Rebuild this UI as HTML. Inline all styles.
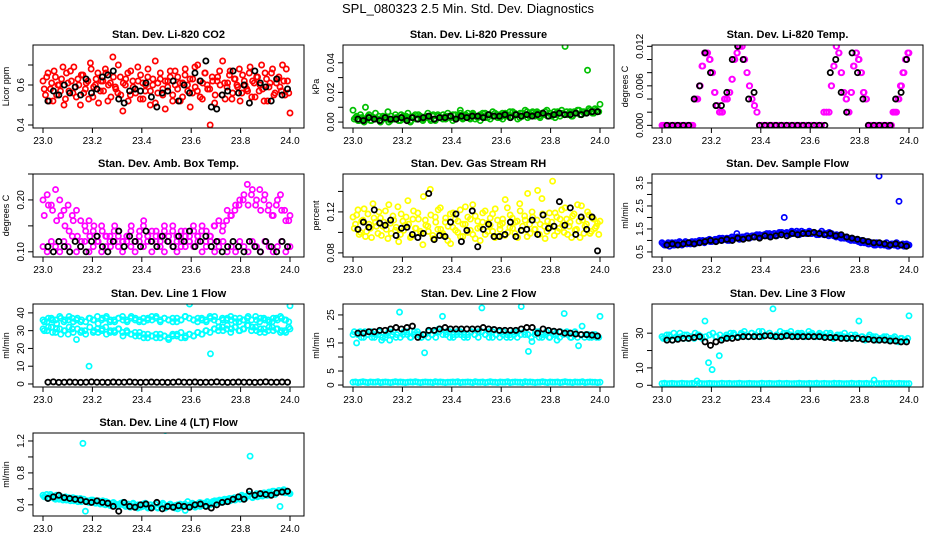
<!DOCTYPE html>
<html><head><meta charset="utf-8"><style>
body{margin:0;background:#fff;}
svg{display:block;font-family:"Liberation Sans",sans-serif;}
</style></head><body>
<svg id="c" width="936" height="540" viewBox="0 0 936 540">
<text x="468" y="13" text-anchor="middle" font-size="13">SPL_080323  2.5 Min. Std. Dev. Diagnostics</text>
</svg>
<script>
const xTicks=[23.0,23.2,23.4,23.6,23.8,24.0];
const co2Red=[0.62,0.55,0.66,0.58,0.52,0.64,0.60,0.57,0.69,0.53,0.61,0.67,0.56,0.59,0.63,0.50,0.65,0.58,0.62,0.71,0.54,0.60,0.66,0.57,0.62,0.68,0.52,0.61,0.74,0.59,0.56,0.64,0.47,0.60,0.66,0.55,0.62,0.58,0.69,0.53,0.61,0.57,0.64,0.50,0.60,0.72,0.56,0.63,0.58,0.48,0.62,0.67,0.55,0.60,0.64,0.52,0.61,0.68,0.57,0.49,0.63,0.59,0.70,0.54,0.61,0.66,0.58,0.40,0.62,0.55,0.64,0.60,0.72,0.53,0.61,0.67,0.56,0.63,0.59,0.52,0.65,0.60,0.57,0.69,0.62,0.54,0.64,0.60,0.58,0.66,0.52,0.61,0.68,0.56,0.63,0.59,0.70,0.55,0.62,0.46];
const co2Red2=[0.58,0.64,0.52,0.61,0.67,0.55,0.60,0.63,0.50,0.66,0.57,0.62,0.69,0.54,0.60,0.65,0.56,0.61,0.53,0.68,0.59,0.63,0.51,0.62,0.57,0.66,0.60,0.54,0.64,0.58,0.70,0.55,0.61,0.63,0.52,0.67,0.59,0.56,0.62,0.65,0.53,0.60,0.68,0.57,0.63,0.51,0.61,0.66,0.55,0.62,0.59,0.64,0.52,0.67,0.58,0.61,0.54,0.65,0.60,0.63,0.56,0.69,0.57,0.62,0.53,0.66,0.60,0.58,0.64,0.51,0.62,0.67,0.55,0.61,0.59,0.65,0.53,0.63,0.60,0.68,0.56,0.62,0.58,0.66,0.54,0.61,0.64,0.57,0.70,0.52,0.63,0.59,0.66,0.55,0.61,0.64,0.57,0.62,0.68,0.56];
const co2Black=[0.52,0.57,0.55,0.60,0.56,0.59,0.55,0.63,0.56,0.58,0.64,0.65,0.67,0.53,0.51,0.57,0.58,0.57,0.61,0.54,0.49,0.56,0.57,0.62,0.52,0.60,0.56,0.66,0.62,0.72,0.49,0.48,0.55,0.57,0.67,0.56,0.60,0.51,0.67,0.61,0.59,0.52,0.63,0.55,0.58];
const presGreen=[0.008,0.003,0.001,0.005,0.002,0.010,0.004,0.001,0.003,0.006,0.002,0.000,0.004,0.003,0.007,0.001,0.002,0.005,0.003,0.001,0.004,0.002,0.006,0.000,0.003,0.005,0.002,0.004,0.001,0.003,0.006,0.002,0.004,0.001,0.005,0.003,0.002,0.004,0.006,0.003,0.001,0.005,0.003,0.008,0.002,0.004,0.006,0.003,0.005,0.002,0.004,0.001,0.006,0.003,0.005,0.002,0.007,0.004,0.003,0.005,0.002,0.006,0.004,0.003,0.007,0.005,0.002,0.006,0.004,0.008,0.003,0.005,0.007,0.004,0.006,0.003,0.005,0.007,0.004,0.006,0.005,0.003,0.007,0.004,0.006,0.051,0.005,0.007,0.004,0.006,0.008,0.005,0.007,0.006,0.035,0.008,0.006,0.009,0.007,0.012];
const presGreen2=[0.002,0.004,0.001,0.003,0.000,0.002,0.005,0.001,0.003,0.002,0.004,0.001,0.003,0.002,0.000,0.004,0.002,0.003,0.001,0.005,0.002,0.004,0.003,0.001,0.004,0.002,0.005,0.003,0.002,0.004,0.003,0.001,0.005,0.002,0.004,0.003,0.005,0.002,0.004,0.003,0.005,0.002,0.004,0.006,0.003,0.005,0.004,0.002,0.006,0.004,0.003,0.005,0.004,0.006,0.003,0.005,0.004,0.006,0.005,0.003,0.006,0.004,0.005,0.007,0.004,0.006,0.005,0.003,0.006,0.005,0.007,0.004,0.006,0.005,0.007,0.004,0.006,0.005,0.008,0.006,0.004,0.007,0.005,0.006,0.008,0.005,0.007,0.006,0.004,0.007,0.006,0.008,0.005,0.007,0.006,0.009,0.007,0.006,0.008,0.007];
const presBlack=[0.002,0.001,0.003,0.002,0.001,0.003,0.002,0.002,0.003,0.001,0.003,0.002,0.003,0.004,0.002,0.003,0.003,0.004,0.002,0.004,0.003,0.004,0.004,0.003,0.005,0.004,0.004,0.005,0.003,0.005,0.004,0.005,0.004,0.005,0.006,0.004,0.005,0.006,0.005,0.005,0.006,0.005,0.006,0.007,0.007];
const tempMagenta=[0,0,0,0,0,0,0,0,0,0,0,0,0,0.004,0.004,0.006,0.009,0.011,0.011,0.010,0.008,0.005,0.003,0.002,0.002,0.004,0.004,0.005,0.007,0.010,0.011,0.012,0.012,0.010,0.008,0.006,0.004,0.003,0.002,0,0,0,0,0,0,0,0,0,0,0,0,0,0,0,0,0,0,0,0,0,0,0,0,0,0,0.002,0.002,0.002,0.006,0.009,0.012,0.011,0.008,0.005,0.004,0.002,0.005,0.009,0.011,0.010,0.008,0.005,0.004,0,0,0,0,0,0,0,0,0,0,0.002,0.002,0.004,0.006,0.008,0.010,0.011];
const tempBlack=[0,0,0,0,0,0.004,0.006,0.011,0.008,0.003,0.003,0.005,0.010,0.012,0.010,0.004,0.005,0,0,0,0,0,0,0,0,0,0,0,0,0,0.008,0.010,0.005,0.002,0.011,0.008,0.004,0,0,0,0,0,0.004,0.005,0.010];
const ambUpper=[0.20,0.21,0.19,0.22,0.20,0.18,0.19,0.17,0.18,0.16,0.15,0.16,0.14,0.13,0.15,0.13,0.12,0.14,0.13,0.12,0.13,0.14,0.12,0.13,0.15,0.12,0.14,0.13,0.12,0.14,0.13,0.15,0.12,0.14,0.13,0.12,0.14,0.13,0.15,0.14,0.13,0.15,0.16,0.15,0.18,0.17,0.19,0.20,0.21,0.19,0.22,0.20,0.18,0.21,0.19,0.17,0.20,0.18,0.16,0.17];
const ambMid=[0.17,0.19,0.18,0.16,0.17,0.15,0.14,0.16,0.13,0.12,0.14,0.13,0.15,0.12,0.14,0.13,0.11,0.15,0.14,0.12,0.13,0.15,0.12,0.14,0.16,0.13,0.12,0.14,0.13,0.15,0.12,0.14,0.13,0.11,0.14,0.12,0.15,0.13,0.14,0.12,0.13,0.15,0.12,0.14,0.16,0.17,0.18,0.19,0.20,0.23,0.21,0.19,0.22,0.20,0.18,0.17,0.19,0.21,0.18,0.16];
const ambLower=[0.11,0.10,0.12,0.11,0.10,0.12,0.11,0.13,0.10,0.11,0.12,0.10,0.11,0.12,0.10,0.11,0.13,0.12,0.11,0.10,0.12,0.11,0.10,0.12,0.11,0.13,0.10,0.12,0.11,0.10,0.12,0.11,0.10,0.12,0.11,0.13,0.11,0.12,0.10,0.11,0.12,0.10,0.11,0.12,0.10,0.11,0.10,0.12,0.11,0.10,0.12,0.11,0.10,0.12,0.11,0.10,0.11,0.12,0.10,0.11];
const ambBlack=[0.11,0.10,0.12,0.11,0.10,0.12,0.11,0.10,0.12,0.13,0.11,0.10,0.12,0.14,0.11,0.13,0.12,0.11,0.14,0.12,0.11,0.13,0.12,0.11,0.13,0.12,0.14,0.11,0.12,0.13,0.11,0.12,0.10,0.11,0.12,0.11,0.10,0.12,0.11,0.10,0.12,0.11,0.10,0.12,0.11];
const rhYellow=[0.115,0.108,0.122,0.100,0.112,0.096,0.118,0.104,0.128,0.110,0.099,0.114,0.106,0.121,0.094,0.109,0.116,0.102,0.125,0.098,0.111,0.107,0.131,0.095,0.113,0.104,0.119,0.101,0.088,0.112,0.106,0.142,0.097,0.115,0.103,0.124,0.099,0.110,0.092,0.118,0.105,0.113,0.100,0.122,0.096,0.108,0.115,0.102,0.127,0.094,0.111,0.105,0.119,0.098,0.109,0.114,0.101,0.123,0.096,0.107,0.113,0.132,0.100,0.117,0.104,0.110,0.095,0.121,0.106,0.112,0.138,0.099,0.115,0.103,0.141,0.108,0.118,0.094,0.111,0.105,0.150,0.119,0.101,0.113,0.107,0.124,0.098,0.110,0.116,0.102,0.127,0.095,0.112,0.106,0.120,0.099,0.114,0.104,0.109,0.111];
const rhYellow2=[0.104,0.117,0.098,0.111,0.123,0.101,0.108,0.095,0.114,0.106,0.120,0.097,0.110,0.103,0.127,0.099,0.112,0.105,0.091,0.118,0.102,0.115,0.108,0.096,0.121,0.104,0.113,0.099,0.135,0.107,0.101,0.117,0.094,0.110,0.122,0.103,0.097,0.114,0.106,0.089,0.119,0.102,0.111,0.096,0.108,0.125,0.100,0.113,0.098,0.116,0.104,0.092,0.110,0.121,0.101,0.107,0.118,0.095,0.112,0.103,0.109,0.097,0.124,0.105,0.114,0.099,0.111,0.128,0.102,0.116,0.096,0.108,0.120,0.103,0.112,0.098,0.133,0.106,0.101,0.119,0.110,0.097,0.115,0.104,0.122,0.100,0.113,0.106,0.095,0.118,0.103,0.111,0.126,0.099,0.108,0.117,0.101,0.113,0.106,0.098];
const rhBlack=[0.103,0.110,0.105,0.122,0.109,0.107,0.112,0.097,0.104,0.105,0.098,0.095,0.099,0.138,0.093,0.097,0.096,0.110,0.118,0.091,0.102,0.121,0.086,0.103,0.108,0.096,0.096,0.098,0.110,0.096,0.102,0.103,0.112,0.098,0.117,0.104,0.106,0.130,0.107,0.124,0.098,0.115,0.103,0.115,0.082];
const flowBlue=[0.9,0.8,0.85,0.75,0.9,0.8,0.85,0.95,0.8,0.9,0.85,0.9,0.95,0.85,0.9,1.0,0.95,0.9,1.0,1.05,0.95,1.0,1.05,1.1,1.0,1.05,1.1,1.0,1.15,1.1,1.3,1.05,1.1,1.15,1.2,1.1,1.15,1.2,1.25,1.15,1.2,1.25,1.3,1.2,1.25,1.3,1.2,1.35,1.25,2.0,1.3,1.25,1.35,1.3,1.4,1.25,1.3,1.35,1.3,1.4,1.3,1.35,1.25,1.3,1.4,1.3,1.25,1.35,1.3,1.2,1.25,1.15,1.2,1.1,1.15,1.05,1.1,1.0,1.05,0.95,1.0,0.9,0.95,0.85,0.9,0.8,0.9,3.8,0.85,0.8,0.9,0.75,0.85,0.8,0.9,2.7,0.8,0.75,0.85,0.8];
const flowBlue2=[0.85,0.8,0.9,0.85,0.8,0.9,0.85,0.9,0.85,0.95,0.9,0.85,0.9,0.95,0.9,0.95,1.0,0.95,1.0,0.95,1.0,1.05,1.0,1.05,1.1,1.05,1.0,1.1,1.05,1.1,1.15,1.1,1.15,1.1,1.2,1.15,1.2,1.15,1.2,1.25,1.2,1.25,1.2,1.3,1.25,1.3,1.25,1.3,1.35,1.3,1.35,1.3,1.4,1.35,1.3,1.35,1.4,1.35,1.3,1.35,1.3,1.35,1.3,1.25,1.3,1.25,1.3,1.2,1.25,1.2,1.15,1.2,1.1,1.15,1.1,1.05,1.0,1.05,1.0,0.95,0.9,0.95,0.9,0.85,0.9,0.85,0.8,0.85,0.8,0.85,0.8,0.75,0.8,0.85,0.8,0.75,0.8,0.85,0.75,0.8];
const flowBlack=[0.8,0.85,0.8,0.85,0.9,0.85,0.9,0.95,1.0,0.95,1.0,1.05,1.0,1.1,1.05,1.1,1.15,1.1,1.2,1.15,1.2,1.25,1.2,1.3,1.25,1.3,1.3,1.35,1.3,1.25,1.3,1.2,1.25,1.15,1.1,1.05,1.0,0.95,0.9,0.9,0.85,0.8,0.85,0.8,0.75];
const line1Upper=[36,35,37,36,38,35,36,37,36,35,47,37,36,38,36,37,35,36,37,38,36,37,36,35,37,36,38,37,36,37,36,35,37,36,38,45,36,37,36,35,37,38,48,36,37,36,35,37,36,38,47,36,37,36,35,37,36,37,36,44];
const line1Upper2=[35,37,36,34,37,36,38,35,37,36,35,37,36,34,37,38,36,35,37,36,35,38,37,36,35,37,36,38,35,37,36,37,35,36,38,37,36,35,37,36,38,36,35,37,36,38,37,35,36,37,36,38,35,37,36,35,37,38,36,35];
const line1Lower=[31,30,32,29,31,30,28,31,25,29,30,10,29,31,30,32,29,30,31,29,30,28,29,27,28,26,27,28,26,27,25,27,28,26,27,28,27,29,28,30,17,31,32,30,33,31,32,30,31,33,32,30,31,29,32,30,31,30,29,31];
const line1Lower2=[30,32,29,31,28,30,32,29,31,30,28,32,30,29,31,28,30,29,31,27,29,28,27,29,26,28,27,26,28,27,26,28,27,29,26,28,27,29,28,30,29,31,30,32,31,29,32,30,31,33,30,32,29,31,30,32,31,29,30,32];
const line1Black=[1,1.2,0.9,1,1.1,1,0.9,1,1.2,1,1,0.9,1.1,1,1,1.2,1,0.9,1,1.1,1,1,0.9,1,1.2,1,1,1.1,0.9,1,1,1.2,1,0.9,1,1.1,1,1,0.9,1,1.2,1,1,1.1,1];
const line2Band=[18,15,19,17,18,19,17,18,16,17,19,18,17,26,18,19,17,18,19,17,11.5,17,18,19,20,24.5,18,19,17,18,19,18,17,19,18,19,27.5,18,17,19,18,17,19,18,17,18,19,28,18,12,15.5,19,17,18,19,17,18,16,19,25.5,18,17,19,14,21,18,17,18,17,24.5];
const line2Band2=[19,18,17,19,18,17,18,19,17,18,16,19,18,17,19,18,17,19,18,17,18,19,18,17,19,18,19,17,18,19,18,17,18,19,18,17,19,18,19,17,18,19,18,17,18,19,17,18,19,18,17,18,19,17,18,17,19,18,17,18,19,17,18,17,18,17,18,17,18,17];
const line2Zero=[1,1.1,0.9,1,1.2,1,0.9,1.1,1,1,1.2,0.9,1,1.1,1,0.9,1,1.2,1,1.1,1,0.9,1,1.1,1,1.2,1,0.9,1,1.1,1,1,0.9,1.2,1,1.1,1,0.9,1,1,1.1,1,1.2,0.9,1,1,1.1,1,0.9,1.2,1,1,1.1,0.9,1,1.2,1,1,0.9,1.1,1,1,1.2,0.9,1,1.1,1,1,0.9,1.2,1,1.1,1,0.9,1,1,1.2,1,0.9,1.1,1,1,1.1,0.9,1,1.2,1,1,0.9,1.1,1,1,1.2,0.9,1,1.1,1,1,0.9,1];
const line2Black=[18.5,18.5,19,19,19.5,19.5,20,20.5,20,20.5,21,17,18,19.5,19.5,20,20.5,20,20,20,20,20,20,20.5,20,19.8,19.5,19.5,19.5,19.5,20,20.5,20.5,18.5,20,19.5,19.2,19,18.5,18.5,18.2,18,18,17.8,17.5];
const line3Band=[28,27,29,26,28,30,27,29,28,27,29,28,37,13,9,28,17,27,29,28,30,28,29,31,28,30,29,28,31,29,30,44,29,28,30,29,31,28,29,30,28,31,29,28,30,29,28,30,27,29,28,30,28,27,29,37,28,27,29,28,26,27,28,26,27,28,25,27,26,40];
const line3Band2=[27,29,28,30,27,28,29,27,28,30,29,27,28,29,30,28,29,27,28,30,29,28,30,29,28,30,29,31,28,29,30,28,29,31,28,30,29,28,30,29,28,29,30,28,29,28,30,29,27,28,29,28,27,29,28,27,28,26,28,27,28,26,27,28,26,27,26,27,26,27];
const line3Zero=[1,1.2,0.9,1,1.1,1,0.9,1,1.2,1,1,0.9,1.1,1,2.5,1.2,1,0.9,1,1.1,1,1,0.9,1,1.2,1,1,1.1,0.9,1,1,1.2,1,0.9,1,1.1,1,1,0.9,1,1.2,1,1,1.1,1,0.9,1,1.2,1,1,1.1,1,0.9,1,1,1.2,1,1,0.9,1.1,1,1,1.2,0.9,1,1.1,1,1,0.9,1.2,1,1.1,1,0.9,1,1,1.2,1,0.9,1.1,1,1,1.1,0.9,1,3,1,1,0.9,1.1,1,1,1.2,0.9,1,1.1,1,1,0.9,1];
const line3Black=[26,26,26.5,27,27,27.5,28,25,23,25,26,27,27,27.5,28,28,28,28,28.5,28.5,28,28,28.5,28,28,28,28,28,28,27.5,27.5,27.5,27,27,27,27,26.5,26.5,26,26,26,25.5,25.5,25,25];
const line4Cyan=[0.52,0.50,0.48,0.53,0.50,0.47,0.51,0.49,0.46,0.50,0.48,0.45,0.49,0.47,0.44,0.48,1.17,0.32,0.45,0.43,0.46,0.42,0.44,0.41,0.45,0.40,0.43,0.39,0.42,0.40,0.38,0.41,0.43,0.39,0.40,0.37,0.41,0.39,0.36,0.40,0.38,0.42,0.37,0.40,0.38,0.41,0.36,0.39,0.42,1.33,0.38,0.40,0.37,0.39,0.35,0.41,0.38,0.33,0.44,0.39,0.41,0.37,0.40,0.38,0.42,0.39,0.43,0.40,0.44,0.42,0.45,0.43,0.46,0.44,0.47,0.45,0.48,0.46,0.49,0.47,0.50,0.48,0.51,1.01,0.49,0.52,0.50,0.53,0.51,0.54,0.52,0.55,0.57,0.53,0.56,0.38,0.58,0.55,0.57,0.54];
const line4Cyan2=[0.50,0.53,0.49,0.51,0.48,0.52,0.47,0.50,0.48,0.46,0.49,0.47,0.45,0.48,0.46,0.44,0.47,0.45,0.43,0.46,0.44,0.42,0.45,0.43,0.41,0.44,0.42,0.40,0.43,0.41,0.39,0.42,0.40,0.38,0.41,0.39,0.42,0.38,0.40,0.37,0.41,0.39,0.36,0.40,0.38,0.41,0.37,0.39,0.40,0.36,0.39,0.41,0.38,0.36,0.40,0.37,0.39,0.41,0.38,0.40,0.42,0.39,0.41,0.43,0.40,0.42,0.44,0.41,0.43,0.45,0.44,0.46,0.45,0.47,0.46,0.48,0.47,0.49,0.48,0.50,0.52,0.49,0.51,0.53,0.50,0.52,0.54,0.51,0.53,0.55,0.52,0.56,0.54,0.57,0.55,0.58,0.56,0.59,0.57,0.55];
const line4Black=[0.48,0.50,0.52,0.49,0.48,0.47,0.46,0.44,0.43,0.45,0.43,0.42,0.38,0.32,0.43,0.38,0.37,0.40,0.41,0.36,0.43,0.35,0.38,0.37,0.39,0.38,0.37,0.40,0.41,0.38,0.36,0.40,0.43,0.44,0.47,0.50,0.47,0.57,0.52,0.54,0.53,0.52,0.55,0.56,0.57];

const NS="http://www.w3.org/2000/svg";
const svg=document.getElementById('c');
function mk(tag,attrs,parent){const e=document.createElementNS(NS,tag);for(const k in attrs)e.setAttribute(k,attrs[k]);(parent||svg).appendChild(e);return e;}
const colLeft=[33,343,652], rowTop=[45,174,304,433], W=271, H=83;
const panels=[
 {slug:'li820-co2',title:'Stan. Dev. Li-820 CO2',ylab:'Licor ppm',c:0,r:0,y0:0.385,y1:0.8,ticks:[0.4,0.5,0.6,0.7],labs:['0.4','','0.6',''],layers:[['#ff0000',co2Red,'full'],['#ff0000',co2Red2,'full2'],['#000',co2Black,'black']]},
 {slug:'li820-pressure',title:'Stan. Dev. Li-820 Pressure',ylab:'kPa',c:1,r:0,y0:-0.004,y1:0.052,ticks:[0,0.01,0.02,0.03,0.04],labs:['0.00','','0.02','','0.04'],layers:[['#00c000',presGreen,'full'],['#00c000',presGreen2,'full2'],['#000',presBlack,'black']]},
 {slug:'li820-temp',title:'Stan. Dev. Li-820 Temp.',ylab:'degrees C',c:2,r:0,y0:-0.0004,y1:0.0122,ticks:[0,0.002,0.004,0.006,0.008,0.01,0.012],labs:['0.000','','','0.006','','','0.012'],layers:[['#ff00ff',tempMagenta,'full'],['#ff00ff',tempMagenta,'full2'],['#000',tempBlack,'black']]},
 {slug:'amb-box-temp',title:'Stan. Dev. Amb. Box Temp.',ylab:'degrees C',c:0,r:1,y0:0.09,y1:0.25,ticks:[0.1,0.15,0.2,0.25],labs:['0.10','','0.20',''],layers:[['#ff00ff',ambUpper,'full'],['#ff00ff',ambMid,'full2'],['#ff00ff',ambLower,'full'],['#000',ambBlack,'black']]},
 {slug:'gas-stream-rh',title:'Stan. Dev. Gas Stream RH',ylab:'percent',c:1,r:1,y0:0.076,y1:0.157,ticks:[0.08,0.1,0.12,0.14],labs:['0.08','','0.12',''],layers:[['#ffff00',rhYellow,'full'],['#ffff00',rhYellow2,'full2'],['#000',rhBlack,'black']]},
 {slug:'sample-flow',title:'Stan. Dev. Sample Flow',ylab:'ml/min',c:2,r:1,y0:0.28,y1:3.89,ticks:[0.5,1,1.5,2,2.5,3,3.5],labs:['0.5','','1.5','','2.5','','3.5'],layers:[['#0000ff',flowBlue,'full'],['#0000ff',flowBlue2,'full2'],['#000',flowBlack,'black']]},
 {slug:'line1-flow',title:'Stan. Dev. Line 1 Flow',ylab:'ml/min',c:0,r:2,y0:-1.7,y1:45,ticks:[0,10,20,30,40],labs:['0','10','20','30','40'],layers:[['#00ffff',line1Upper,'full'],['#00ffff',line1Upper2,'full2'],['#00ffff',line1Lower,'full'],['#00ffff',line1Lower2,'full2'],['#000',line1Black,'black']]},
 {slug:'line2-flow',title:'Stan. Dev. Line 2 Flow',ylab:'ml/min',c:1,r:2,y0:-0.7,y1:28.9,ticks:[0,5,10,15,20,25],labs:['0','5','','15','','25'],layers:[['#00ffff',line2Zero,'full'],['#00ffff',line2Band,'full'],['#00ffff',line2Band2,'full2'],['#000',line2Black,'black']]},
 {slug:'line3-flow',title:'Stan. Dev. Line 3 Flow',ylab:'ml/min',c:2,r:2,y0:-1,y1:46.8,ticks:[0,10,20,30],labs:['0','10','','30'],layers:[['#00ffff',line3Zero,'full'],['#00ffff',line3Band,'full'],['#00ffff',line3Band2,'full2'],['#000',line3Black,'black']]},
 {slug:'line4-flow',title:'Stan. Dev. Line 4 (LT) Flow',ylab:'ml/min',c:0,r:3,y0:0.26,y1:1.3,ticks:[0.4,0.6,0.8,1.0,1.2],labs:['0.4','','0.8','','1.2'],layers:[['#00ffff',line4Cyan,'full'],['#00ffff',line4Cyan2,'full2'],['#000',line4Black,'black']]}
];
panels.forEach(p=>{
 const L=colLeft[p.c], T=rowTop[p.r];
 const g=mk('g',{});
 
 
 const xs=x=>L+10+(x-23)*247;
 const ys=y=>T+H-(y-p.y0)/(p.y1-p.y0)*H;
 const t=mk('text',{x:L+W/2,y:T-7,'text-anchor':'middle','font-size':'11','font-weight':'bold'},g);
 t.textContent=p.title;
 
 
 const clip=mk('clipPath',{id:'cl'+p.slug},g);mk('rect',{x:L,y:T,width:W,height:H},clip);
 const pts=mk('g',{'clip-path':'url(#cl'+p.slug+')'},g);
 p.layers.forEach(([col,vals,kind])=>{
  const n=vals.length;
  const a=kind==='black'?23.02:(kind==='full2'?23.005:23.0);
  const b=kind==='black'?23.99:(kind==='full2'?23.995:24.0);
  vals.forEach((v,i)=>{
   const c=mk('circle',{cx:xs(a+(b-a)*i/(n-1)),cy:ys(v),r:2.6,fill:'none',stroke:col,'stroke-width':kind==='black'?1.8:1.7},pts);
   
   
  });
 });
 const box=mk('rect',{x:L,y:T,width:W,height:H,fill:'none',stroke:'#000','stroke-width':1},g);
 
 
 const ax=mk('g',{},g);
 
 
 mk('line',{x1:xs(23),x2:xs(24),y1:T+H,y2:T+H,stroke:'#000'},ax);
 xTicks.forEach(v=>{
  mk('line',{x1:xs(v),x2:xs(v),y1:T+H,y2:T+H+5,stroke:'#000'},ax);
  const tx=mk('text',{x:xs(v),y:T+H+16,'text-anchor':'middle','font-size':'10'},ax);tx.textContent=v.toFixed(1);
 });
 const ay=mk('g',{},g);
 
 
 mk('line',{x1:L,x2:L,y1:ys(p.ticks[0]),y2:ys(p.ticks[p.ticks.length-1]),stroke:'#000'},ay);
 p.ticks.forEach((v,i)=>{
  mk('line',{x1:L-5,x2:L,y1:ys(v),y2:ys(v),stroke:'#000'},ay);
  if(p.labs[i]){const tx=mk('text',{x:L-9,y:ys(v),'text-anchor':'middle','font-size':'10',transform:`rotate(-90 ${L-9} ${ys(v)})`},ay);tx.textContent=p.labs[i];}
 });
 const yl=mk('text',{x:L-24,y:T+H/2,'text-anchor':'middle','font-size':'9',transform:`rotate(-90 ${L-24} ${T+H/2})`},g);
 yl.textContent=p.ylab;
 
 
});
</script>
</body></html>
